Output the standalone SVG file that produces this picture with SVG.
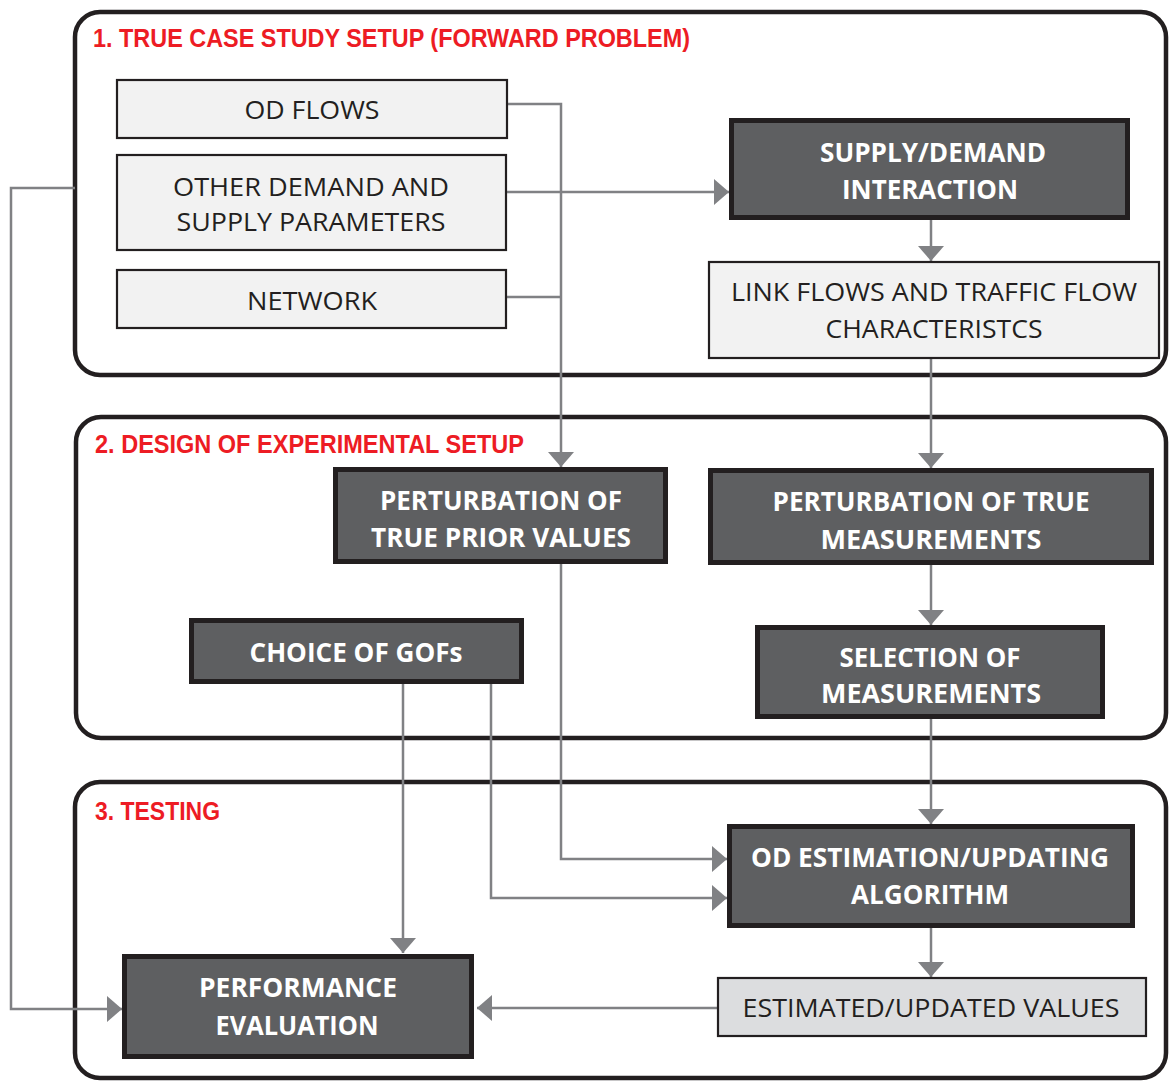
<svg xmlns="http://www.w3.org/2000/svg" width="1170" height="1082" viewBox="0 0 1170 1082">
<style>
.panel{fill:#ffffff;stroke:#231f20;stroke-width:4.5}
.title{font-family:"Liberation Sans",Arial,sans-serif;font-weight:bold;font-size:26.5px;fill:#ed1c24}
.light{fill:#f2f2f2;stroke:#231f20;stroke-width:2.2}
.gray{fill:#dcdddf;stroke:#231f20;stroke-width:2.2}
.dark{fill:#5e5f61;stroke:#231f20;stroke-width:5}
.lt{font-family:"Open Sans","Noto Sans",sans-serif;font-size:26px;fill:#231f20;text-anchor:middle}
.dt{font-family:"Open Sans","Noto Sans",sans-serif;font-weight:bold;font-size:26px;fill:#ffffff;text-anchor:middle}
.conn{fill:none;stroke:#808184;stroke-width:2.5}
</style>
<defs>
<marker id="arr" markerUnits="userSpaceOnUse" viewBox="0 0 15 26" refX="15" refY="13" markerWidth="15" markerHeight="26" orient="auto">
<path d="M0,0 L15,13 L0,26 Z" fill="#808184"/>
</marker>
</defs>
<rect width="1170" height="1082" fill="#ffffff"/>
<g id="panel1">
<rect class="panel" x="75" y="12" width="1091" height="363" rx="25"/>
<text class="title" x="93" y="47" textLength="597" lengthAdjust="spacingAndGlyphs">1. TRUE CASE STUDY SETUP (FORWARD PROBLEM)</text>
</g>
<g id="panel2">
<rect class="panel" x="76" y="417" width="1090" height="321" rx="25"/>
<text class="title" x="95" y="453" textLength="429" lengthAdjust="spacingAndGlyphs">2. DESIGN OF EXPERIMENTAL SETUP</text>
</g>
<g id="panel3">
<rect class="panel" x="75" y="782" width="1091" height="296" rx="25"/>
<text class="title" x="95" y="820" textLength="125" lengthAdjust="spacingAndGlyphs">3. TESTING</text>
</g>
<g id="connectors">
<path class="conn" d="M506,104 H561 V467" marker-end="url(#arr)"/>
<path class="conn" d="M506,192 H729" marker-end="url(#arr)"/>
<path class="conn" d="M506,297 H561"/>
<path class="conn" d="M931,220 V261" marker-end="url(#arr)"/>
<path class="conn" d="M931,358 V468" marker-end="url(#arr)"/>
<path class="conn" d="M931,564 V625" marker-end="url(#arr)"/>
<path class="conn" d="M931,718 V824" marker-end="url(#arr)"/>
<path class="conn" d="M931,927 V977" marker-end="url(#arr)"/>
<path class="conn" d="M717,1008 H477" marker-end="url(#arr)"/>
<path class="conn" d="M561,563 V859 H727" marker-end="url(#arr)"/>
<path class="conn" d="M491,683 V898 H727" marker-end="url(#arr)"/>
<path class="conn" d="M403,683 V953" marker-end="url(#arr)"/>
<path class="conn" d="M75,188 H11 V1009 H122" marker-end="url(#arr)"/>
</g>
<g id="od-flows">
<rect class="light" x="117" y="80" width="390" height="58"/>
<text class="lt" x="312" y="118.5" textLength="135" lengthAdjust="spacingAndGlyphs">OD FLOWS</text>
</g>
<g id="other-params">
<rect class="light" x="117" y="155" width="389" height="95"/>
<text class="lt" x="311" y="195.5" textLength="276" lengthAdjust="spacingAndGlyphs">OTHER DEMAND AND</text>
<text class="lt" x="311" y="231" textLength="269" lengthAdjust="spacingAndGlyphs">SUPPLY PARAMETERS</text>
</g>
<g id="network">
<rect class="light" x="117" y="270" width="389" height="58"/>
<text class="lt" x="312" y="309.5" textLength="130" lengthAdjust="spacingAndGlyphs">NETWORK</text>
</g>
<g id="supply-demand">
<rect class="dark" x="731.5" y="120.5" width="396" height="97"/>
<text class="dt" x="933" y="161.5" textLength="226" lengthAdjust="spacingAndGlyphs">SUPPLY/DEMAND</text>
<text class="dt" x="930" y="198.5" textLength="176" lengthAdjust="spacingAndGlyphs">INTERACTION</text>
</g>
<g id="link-flows">
<rect class="light" x="709" y="262" width="450" height="96"/>
<text class="lt" x="934" y="301" textLength="406" lengthAdjust="spacingAndGlyphs">LINK FLOWS AND TRAFFIC FLOW</text>
<text class="lt" x="934" y="338" textLength="217" lengthAdjust="spacingAndGlyphs">CHARACTERISTCS</text>
</g>
<g id="perturb-prior">
<rect class="dark" x="335.5" y="469.5" width="330" height="92"/>
<text class="dt" x="501" y="510" textLength="242" lengthAdjust="spacingAndGlyphs">PERTURBATION OF</text>
<text class="dt" x="501" y="547" textLength="260" lengthAdjust="spacingAndGlyphs">TRUE PRIOR VALUES</text>
</g>
<g id="perturb-meas">
<rect class="dark" x="710.5" y="470.5" width="441" height="92"/>
<text class="dt" x="931" y="511" textLength="317" lengthAdjust="spacingAndGlyphs">PERTURBATION OF TRUE</text>
<text class="dt" x="931" y="549" textLength="221" lengthAdjust="spacingAndGlyphs">MEASUREMENTS</text>
</g>
<g id="choice-gofs">
<rect class="dark" x="191.5" y="620.5" width="330" height="61"/>
<text class="dt" x="356" y="662" textLength="213" lengthAdjust="spacingAndGlyphs">CHOICE OF GOFs</text>
</g>
<g id="selection">
<rect class="dark" x="757.5" y="627.5" width="345" height="89"/>
<text class="dt" x="930" y="667" textLength="181" lengthAdjust="spacingAndGlyphs">SELECTION OF</text>
<text class="dt" x="931" y="703" textLength="220" lengthAdjust="spacingAndGlyphs">MEASUREMENTS</text>
</g>
<g id="od-estimation">
<rect class="dark" x="729.5" y="826.5" width="403" height="99"/>
<text class="dt" x="930" y="867" textLength="358" lengthAdjust="spacingAndGlyphs">OD ESTIMATION/UPDATING</text>
<text class="dt" x="930" y="904" textLength="158" lengthAdjust="spacingAndGlyphs">ALGORITHM</text>
</g>
<g id="performance">
<rect class="dark" x="124.5" y="956.5" width="347" height="100"/>
<text class="dt" x="298" y="997" textLength="198" lengthAdjust="spacingAndGlyphs">PERFORMANCE</text>
<text class="dt" x="297" y="1035" textLength="163" lengthAdjust="spacingAndGlyphs">EVALUATION</text>
</g>
<g id="estimated">
<rect class="gray" x="718" y="978" width="428" height="58"/>
<text class="lt" x="931" y="1017" textLength="377" lengthAdjust="spacingAndGlyphs">ESTIMATED/UPDATED VALUES</text>
</g>
</svg>
